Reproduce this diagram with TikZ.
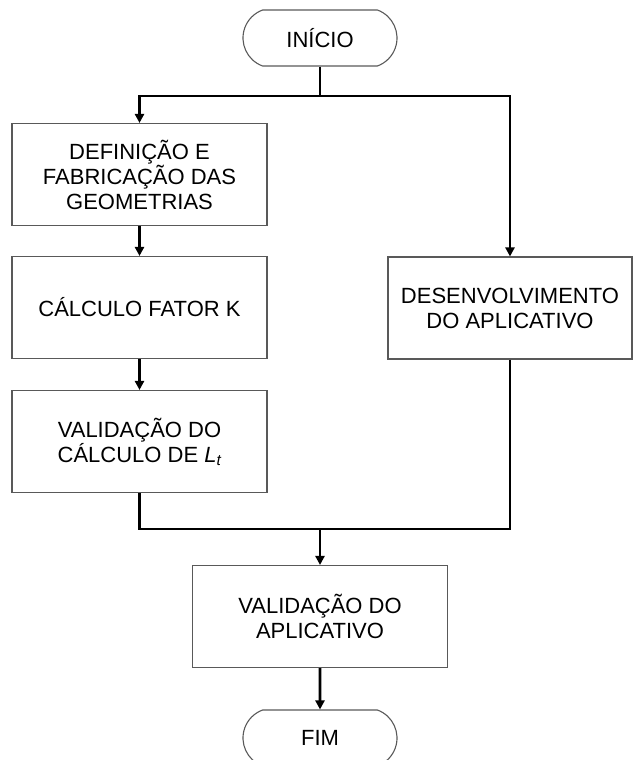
\documentclass[tikz,border=0pt]{standalone}
\usepackage{fontspec}
\setmainfont{Liberation Sans}
\usepackage{tikz}
\usetikzlibrary{shapes.misc,calc,arrows.meta}

\begin{document}
\begin{tikzpicture}[x=1pt, y=-1pt,
    etapa/.style={draw=black!65, line width=1.1pt, minimum width=255pt, minimum height=102pt,
        inner sep=2pt, align=center, font=\fontsize{22}{25}\selectfont},
    terminal/.style={etapa, rounded rectangle, rounded rectangle arc length=140,
        minimum width=158pt, minimum height=56pt},
    fluxo/.style={line width=2.6pt},
    seta/.style={fluxo, -{Triangle[length=9pt,width=9pt]}}]
    \clip (0,0) rectangle (633,760);

    % Inicio e ramos
    \node[terminal] (inicio) at (320,38) {INÍCIO};
    \node[etapa] (defin) at (139.5,174.5) {DEFINIÇÃO E\\FABRICAÇÃO DAS\\GEOMETRIAS};
    \node[etapa] (fatork) at (139.5,307.5) {CÁLCULO FATOR K};
    \node[etapa] (valid) at (139.5,441.5) {VALIDAÇÃO DO\\CÁLCULO DE {\itshape L\textsubscript{t}}};
    \node[etapa, minimum width=244pt] (desenv) at (510,308) {DESENVOLVIMENTO\\DO APLICATIVO};

    % Fim
    \node[etapa] (valapp) at (320,616.5) {VALIDAÇÃO DO\\APLICATIVO};
    \node[terminal] (fim) at (320,738) {FIM};

    \coordinate (ramo) at (320,96);
    \coordinate (junta) at (320,529);

    \draw[fluxo] (inicio.south) -- (ramo);
    \draw[seta] (ramo) -| (defin.north);
    \draw[seta] (ramo) -| (desenv.north);
    \draw[seta] (defin) -- (fatork);
    \draw[seta] (fatork) -- (valid);
    \draw[fluxo] (valid.south) |- (junta);
    \draw[fluxo] (desenv.south) |- (junta);
    \draw[seta] (junta) -- (valapp.north);
    \draw[seta] (valapp) -- (fim);
\end{tikzpicture}
\end{document}
